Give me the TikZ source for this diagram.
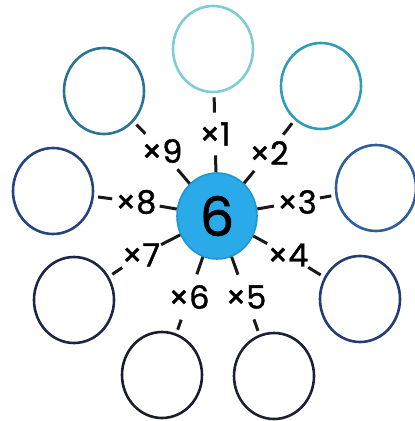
\documentclass[tikz,border=0pt]{standalone}
\usepackage{fontspec}
\setmainfont{Poppins}
\newfontfamily\tagfont{Poppins}[FakeBold=1.2]
\usepackage{xcolor}
\definecolor{rgcyan}{RGB}{128,204,214}
\definecolor{rgteal}{RGB}{46,157,186}
\definecolor{rgsea}{RGB}{43,115,148}
\definecolor{rgblue}{RGB}{45,94,150}
\definecolor{rgmid}{RGB}{37,68,127}
\definecolor{rgdeep}{RGB}{35,60,114}
\definecolor{rgnavy}{RGB}{30,38,71}
\definecolor{rgink}{RGB}{28,34,51}
\definecolor{rgdark}{RGB}{26,29,42}
\definecolor{hubfill}{RGB}{42,170,232}
\definecolor{hubline}{RGB}{30,150,210}
\usetikzlibrary{shapes.geometric}

\begin{document}
\begin{tikzpicture}[x=0.5pt, y=-0.5pt,
  ring/.style={draw, ellipse, line width=1.3pt, minimum width=40pt, minimum height=43pt, inner sep=0pt},
  spoke/.style={line width=1.5pt, black!90},
  tag/.style={circle, minimum size=21pt, inner sep=0pt, font=\tagfont\fontsize{16}{16}\selectfont}]
  \useasboundingbox (0,0) rectangle (414,421);
  % centre number
  \node[ellipse, draw=hubline, fill=hubfill, line width=0.8pt, minimum width=40pt, minimum height=43pt, inner sep=0pt, font=\tagfont\fontsize{27}{27}\selectfont] (hub) at (217,216) {6};
  % answer rings
  \node[ring, draw=rgcyan] (r1) at (213,49) {};
  \node[ring, draw=rgteal] (r2) at (321,86) {};
  \node[ring, draw=rgblue] (r3) at (376,188) {};
  \node[ring, draw=rgdeep] (r4) at (360,299) {};
  \node[ring, draw=rgink] (r5) at (274,376) {};
  \node[ring, draw=rgdark] (r6) at (162,375) {};
  \node[ring, draw=rgnavy] (r7) at (74,300) {};
  \node[ring, draw=rgmid] (r8) at (53,191) {};
  \node[ring, draw=rgsea] (r9) at (104,91) {};
  % multipliers
  \node[tag] (t1) at (215,134) {×1};
  \node[tag] (t2) at (269,153) {×2};
  \node[tag] (t3) at (297,202) {×3};
  \node[tag] (t4) at (288,255) {×4};
  \node[tag] (t5) at (246,297) {×5};
  \node[tag] (t6) at (189,297) {×6};
  \node[tag] (t7) at (141,255) {×7};
  \node[tag] (t8) at (136,202) {×8};
  \node[tag] (t9) at (162,151) {×9};
  % spokes
  \draw[spoke] (hub) -- (t1); \draw[spoke, shorten >=2pt] (t1) -- (r1);
  \draw[spoke] (hub) -- (t2); \draw[spoke, shorten >=2pt] (t2) -- (r2);
  \draw[spoke] (hub) -- (t3); \draw[spoke, shorten >=2pt] (t3) -- (r3);
  \draw[spoke] (hub) -- (t4); \draw[spoke, shorten >=2pt] (t4) -- (r4);
  \draw[spoke] (hub) -- (t5); \draw[spoke, shorten >=2pt] (t5) -- (r5);
  \draw[spoke] (hub) -- (t6); \draw[spoke, shorten >=2pt] (t6) -- (r6);
  \draw[spoke] (hub) -- (t7); \draw[spoke, shorten >=2pt] (t7) -- (r7);
  \draw[spoke] (hub) -- (t8); \draw[spoke, shorten >=2pt] (t8) -- (r8);
  \draw[spoke] (hub) -- (t9); \draw[spoke, shorten >=2pt] (t9) -- (r9);
\end{tikzpicture}
\end{document}
